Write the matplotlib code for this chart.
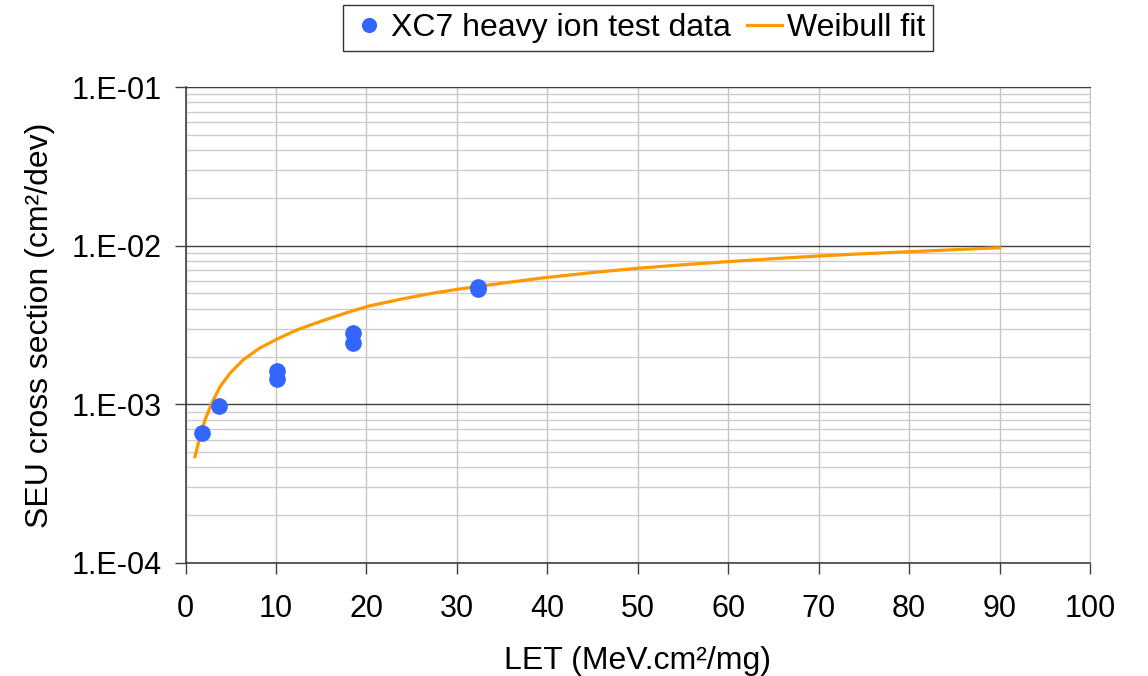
import numpy as np
import matplotlib.pyplot as plt
from matplotlib.ticker import FixedLocator, FuncFormatter, LogLocator, NullFormatter

plt.rcParams['font.family'] = ['Liberation Sans', 'DejaVu Sans']

# Heavy ion test data (LET in MeV.cm2/mg, cross section in cm2/dev)
let_data = [1.82, 3.67, 10.15, 10.15, 18.48, 18.48, 32.3, 32.3]
sigma_data = [6.6e-4, 9.75e-4, 1.62e-3, 1.44e-3, 2.83e-3, 2.43e-3, 5.45e-3, 5.3e-3]

# Weibull fit curve, sampled along the fitted line
let_fit = [1.05, 1.6, 2.16, 2.9, 3.81, 4.92, 6.39, 8.2, 10.08, 12.29, 14.87,
           17.82, 20.4, 24.0, 27.0, 30.0, 33.0, 36.5, 39.7, 45.0, 50.1,
           55.0, 60.0, 65.0, 70.1, 75.0, 80.0, 85.0, 90.0]
sigma_fit = [4.68e-4, 6.25e-4, 7.98e-4, 1.016e-3, 1.29e-3, 1.57e-3, 1.91e-3,
             2.26e-3, 2.57e-3, 2.94e-3, 3.32e-3, 3.78e-3, 4.18e-3, 4.62e-3,
             4.98e-3, 5.3e-3, 5.6e-3, 5.95e-3, 6.28e-3, 6.77e-3, 7.21e-3,
             7.58e-3, 7.93e-3, 8.28e-3, 8.61e-3, 8.9e-3, 9.16e-3, 9.43e-3, 9.7e-3]

x_ticks = list(range(0, 101, 10))
y_ticks = [1e-4, 1e-3, 1e-2, 1e-1]

fig = plt.figure(figsize=(11.48, 6.76), dpi=100)
ax = fig.add_axes([0.1616, 0.1672, 0.9495 - 0.1616, 0.8713 - 0.1672])

ax.plot(let_data, sigma_data, 'o', color='#3366FF', markersize=11,
        linestyle='none', label='XC7 heavy ion test data', zorder=4)
ax.plot(let_fit, sigma_fit, color='#FF9900', linewidth=2.3,
        label='Weibull fit', zorder=3)

ax.set_yscale('log')
ax.set_xlim(0, 100)
ax.set_ylim(1e-4, 1e-1)

ax.xaxis.set_major_locator(FixedLocator(x_ticks))
ax.yaxis.set_major_locator(FixedLocator(y_ticks))
ax.yaxis.set_minor_locator(LogLocator(base=10, subs=np.arange(2, 10)))
ax.yaxis.set_minor_formatter(NullFormatter())
ax.yaxis.set_major_formatter(FuncFormatter(
    lambda v, pos: '1.E-%02d' % round(-np.log10(v))))

ax.grid(True, which='major', axis='y', color='#404040', linewidth=1.0)
ax.grid(True, which='minor', axis='y', color='#cccccc', linewidth=1.0)
ax.grid(True, which='major', axis='x', color='#c4c4c4', linewidth=1.0)
ax.set_axisbelow(True)

ax.tick_params(axis='both', which='major', labelsize=22, length=8,
               width=1, color='#404040', direction='out')
ax.tick_params(axis='x', which='major', pad=14)
ax.tick_params(axis='y', which='major', pad=9)
ax.tick_params(axis='y', which='minor', length=0)

for side in ['left', 'bottom']:
    ax.spines[side].set_color('#404040')
    ax.spines[side].set_linewidth(1.2)
ax.spines['top'].set_color('#404040')
ax.spines['right'].set_color('#c4c4c4')

ax.set_xlabel('LET (MeV.cm²/mg)', fontsize=23, labelpad=16)
ax.set_ylabel('SEU cross section (cm²/dev)', fontsize=23, labelpad=12)

leg = fig.legend(loc='center', bbox_to_anchor=(0.556, 0.959), ncol=2,
                 fontsize=23, frameon=True, fancybox=False, edgecolor='black',
                 handlelength=1.1, handletextpad=0.15, columnspacing=0.5,
                 borderpad=0.25, borderaxespad=0, markerscale=0.9)
leg.get_frame().set_linewidth(1.0)

fig.savefig('out.png', dpi=100)
